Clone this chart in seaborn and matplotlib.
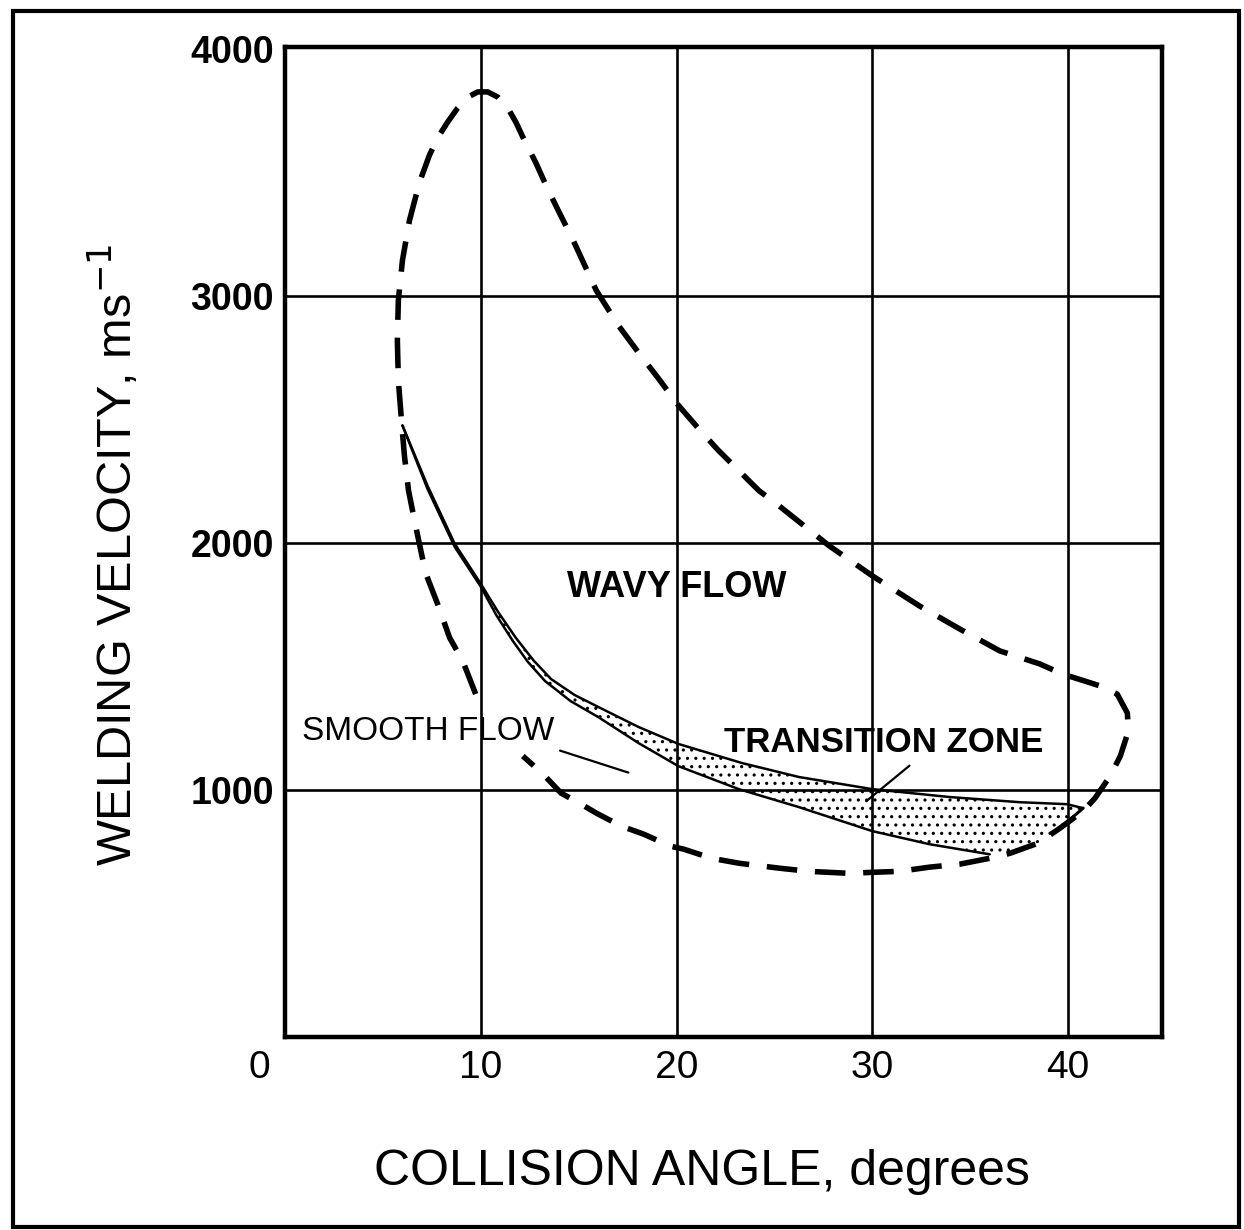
import matplotlib
matplotlib.use("Agg")
import matplotlib.pyplot as plt
import matplotlib.transforms as mtransforms
from matplotlib.patches import Rectangle
import seaborn as sns

# Dashed envelope of the weldability window
outer_x = [9.74, 9.08, 8.41, 7.79, 7.18, 6.67, 6.31, 6.10, 5.95, 5.79, 5.74, 5.79, 6.00,
           6.36, 6.87, 7.38, 7.79, 8.31, 8.82, 9.33, 9.85, 10.36, 10.87, 11.38, 11.79,
           12.15, 12.82, 13.33, 13.95, 14.72, 15.90, 17.03, 18.05, 19.08, 20.10, 21.13,
           22.15, 24.21, 25.23, 27.79, 30.00, 32.41, 34.46, 36.51, 38.56, 39.69, 41.64,
           42.51, 43.03, 43.08, 42.67, 42.15, 41.38, 40.77, 39.59, 38.46, 37.03, 36.00,
           34.46, 32.92, 31.38, 30.00, 28.82, 26.77, 25.23, 23.18, 21.79, 20.36, 19.69,
           18.31, 17.18, 15.90, 15.13, 14.10, 13.18, 12.15]
outer_y = [1389, 1523, 1617, 1755, 1880, 2071, 2213, 2355, 2497, 2659, 2822, 2984, 3146,
           3308, 3462, 3572, 3641, 3706, 3763, 3807, 3828, 3828, 3807, 3763, 3706,
           3645, 3540, 3450, 3349, 3227, 3024, 2882, 2773, 2667, 2558, 2464,
           2375, 2213, 2152, 1990, 1868, 1746, 1653, 1564, 1511, 1471, 1422,
           1389, 1312, 1239, 1138, 1057, 968, 915, 846, 785, 744, 724,
           700, 688, 671, 667, 663, 671, 684, 704, 724, 761, 773,
           822, 854, 907, 943, 988, 1065, 1138]

# Upper and lower solid curves bounding the transition zone
upper_x = [6.0, 7.28, 8.67, 10.0, 10.9, 11.79, 12.7, 13.59, 14.8, 16.0, 18.05, 20.1,
           23.33, 26.26, 30.0, 33.95, 37.54, 39.95, 40.77]
upper_y = [2477, 2233, 1998, 1836, 1720, 1617, 1525, 1450, 1385, 1337, 1256, 1187,
           1110, 1053, 1004, 972, 951, 943, 927]
lower_x = [6.0, 7.28, 8.67, 10.0, 10.8, 11.64, 12.4, 13.28, 14.6, 16.0, 18.05, 20.1,
           23.18, 26.26, 30.0, 32.92, 36.0]
lower_y = [2477, 2220, 1985, 1824, 1708, 1604, 1520, 1442, 1360, 1296, 1191, 1097,
           1004, 931, 834, 781, 740]
tip_x = [40.77, 39.59]
tip_y = [927, 846]
edge_x = [39.59, 38.46, 37.03]
edge_y = [846, 785, 744]

# Pointer lines for the labels
smooth_ptr_x = [14.05, 17.54]
smooth_ptr_y = [1160, 1071]
trans_ptr_x = [31.9, 29.69]
trans_ptr_y = [1099, 955]

x_ticks = [0, 10, 20, 30, 40]
y_ticks = [1000, 2000, 3000, 4000]

sns.set_theme(style="white")
plt.rcParams['font.family'] = ['Liberation Sans', 'DejaVu Sans']
plt.rcParams['text.color'] = 'black'
plt.rcParams['axes.labelcolor'] = 'black'
plt.rcParams['xtick.color'] = 'black'
plt.rcParams['ytick.color'] = 'black'
plt.rcParams['hatch.linewidth'] = 1.1

fig = plt.figure(figsize=(12.44, 12.30), dpi=100)
ax = fig.add_axes([0.2291, 0.1569, 0.705, 0.8049])

ax.set_xlim(0, 44.8)
ax.set_ylim(0, 4010)

# grid
for gx in x_ticks[1:]:
    ax.axvline(gx, color='black', lw=1.9, zorder=1)
for gy in y_ticks[:-1]:
    ax.axhline(gy, color='black', lw=1.9, zorder=1)

# stippled transition zone
poly_x = upper_x[3:] + edge_x + lower_x[3:][::-1]
poly_y = upper_y[3:] + edge_y + lower_y[3:][::-1]
ax.fill(poly_x, poly_y, facecolor='none', edgecolor='black', hatch='..', lw=0, zorder=2)

sns.lineplot(x=outer_x, y=outer_y, sort=False, estimator=None, ax=ax, color='black',
             lw=4.0, linestyle=(0, (5.5, 3.2)), zorder=3)
sns.lineplot(x=upper_x, y=upper_y, sort=False, estimator=None, ax=ax, color='black',
             lw=1.8, zorder=3)
sns.lineplot(x=lower_x, y=lower_y, sort=False, estimator=None, ax=ax, color='black',
             lw=1.8, zorder=3)
sns.lineplot(x=tip_x, y=tip_y, sort=False, estimator=None, ax=ax, color='black',
             lw=2.2, zorder=3)
sns.lineplot(x=smooth_ptr_x, y=smooth_ptr_y, sort=False, estimator=None, ax=ax,
             color='black', lw=1.6, zorder=3)
sns.lineplot(x=trans_ptr_x, y=trans_ptr_y, sort=False, estimator=None, ax=ax,
             color='black', lw=1.6, zorder=3)

# labels inside the plot
ax.text(20.0, 1821, 'WAVY FLOW', ha='center', va='center', fontsize=26,
        fontweight='bold', zorder=4)
ax.text(7.33, 1239, 'SMOOTH FLOW', ha='center', va='center', fontsize=24, zorder=4)
ax.text(30.56, 1191, 'TRANSITION ZONE', ha='center', va='center', fontsize=25,
        fontweight='bold', zorder=4)

# axes styling
for sp in ax.spines.values():
    sp.set_visible(True)
    sp.set_color('black')
    sp.set_linewidth(3.2)
ax.set_xticks(x_ticks)
ax.set_yticks(y_ticks)
ax.set_xticklabels([str(v) for v in x_ticks], fontsize=28)
ax.set_yticklabels([str(v) for v in y_ticks], fontsize=27, fontweight='bold')
ax.tick_params(axis='both', length=0)
ax.tick_params(axis='x', pad=9)
ax.tick_params(axis='y', pad=8)
ax.grid(False)

# the "0" sits left of the axis corner in the original
shift = mtransforms.ScaledTranslation(-26 / 100, 0, fig.dpi_scale_trans)
ax.get_xticklabels()[0].set_transform(ax.get_xticklabels()[0].get_transform() + shift)

ax.set_xlabel('COLLISION ANGLE, degrees', fontsize=36)
ax.xaxis.set_label_coords(0.475, -0.113)
ax.set_ylabel('WELDING VELOCITY, ms$^{-1}$', fontsize=35)
ax.yaxis.set_label_coords(-0.163, 0.487)

# outer frame around the whole figure
fig.patches.append(Rectangle((0.0105, 0.0026), 0.9855, 0.9885, transform=fig.transFigure,
                             fill=False, edgecolor='black', lw=3.0))

fig.savefig('out.png', dpi=100, facecolor='white')
